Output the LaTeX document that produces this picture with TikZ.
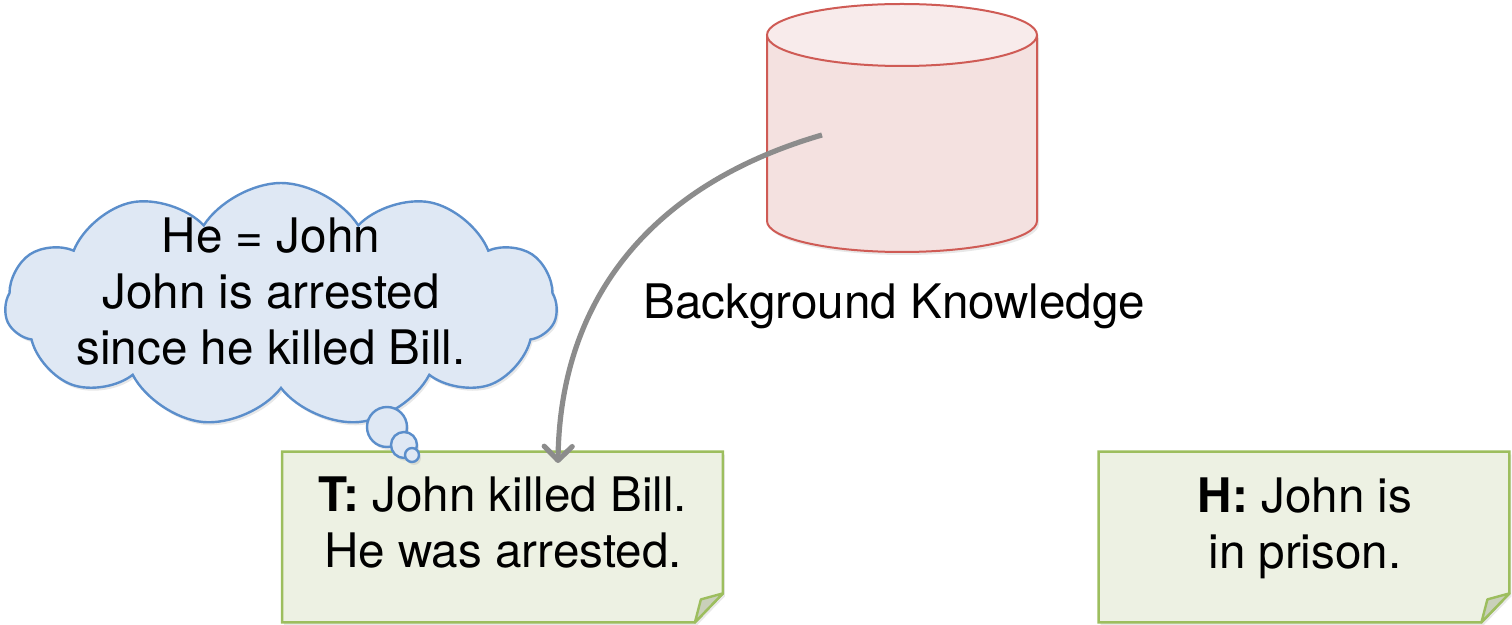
\documentclass[tikz,border=0pt]{standalone}
\usepackage{fontspec}
\setmainfont{TeX Gyre Heros}
\usetikzlibrary{shapes.symbols,arrows.meta,shadows}

\definecolor{noteFill}{HTML}{EDF1E3}
\definecolor{noteEdge}{HTML}{9DBE5E}
\definecolor{noteFlap}{HTML}{C9D0BA}
\definecolor{cloudFill}{HTML}{DFE8F4}
\definecolor{cloudEdge}{HTML}{5B8ECB}
\definecolor{cylBody}{HTML}{F4E1E0}
\definecolor{cylTop}{HTML}{F8EBEB}
\definecolor{cylEdge}{HTML}{CF5B55}
\definecolor{arrowGray}{HTML}{8C8C8C}

\tikzset{
  txt/.style={font=\fontsize{23.8}{28}\selectfont, align=center, inner sep=0pt},
  notebox/.style={minimum width=220pt, minimum height=85pt, inner sep=0pt},
  noteline/.style={draw=noteEdge, fill=noteFill, line width=1.2pt,
    drop shadow={shadow xshift=1pt, shadow yshift=-1.5pt, opacity=0.18}},
  flap/.style={draw=noteEdge, fill=noteFlap, line width=1.2pt, line join=round},
  thought/.style={draw=cloudEdge, fill=cloudFill, line width=1.2pt,
    drop shadow={shadow xshift=1pt, shadow yshift=-1.5pt, opacity=0.18}},
  cyl/.style={draw=cylEdge, line width=1pt},
  link/.style={draw=arrowGray, line width=2.6pt,
    -{Straight Barb[round, length=7pt, width=14pt]}},
}

\begin{document}
\begin{tikzpicture}[x=0.5pt, y=0.5pt]
  \useasboundingbox (0,0) rectangle (1512,-625);

  % knowledge base cylinder
  \fill[cylBody, drop shadow={shadow xshift=1pt, shadow yshift=-1.5pt, opacity=0.18}]
    (767,-35) -- (767,-221)
    arc[start angle=180, end angle=360, x radius=67.5pt, y radius=15.5pt]
    -- (1037,-35) -- cycle;
  \draw[cyl] (767,-35) -- (767,-221)
    arc[start angle=180, end angle=360, x radius=67.5pt, y radius=15.5pt]
    -- (1037,-35);
  \filldraw[cyl, fill=cylTop] (902,-35) ellipse[x radius=67.5pt, y radius=15.5pt];
  \coordinate (kb) at (822,-135);
  \node[txt, anchor=base] (kblabel) at (894.5,-319) {Background Knowledge};

  % thought cloud
  \node[thought, cloud, cloud puffs=11, cloud puff arc=115,
        minimum width=276pt, minimum height=122pt, inner sep=0pt] (cloud) at (281,-305) {};
  \node[txt] (ctext) at (271,-292) {He = John\\John is arrested\\since he killed Bill.};

  % text note T
  \node[notebox] (tbox) at (502.5,-537) {};
  \path[noteline] (tbox.north west) -- (tbox.north east) -- ([yshift=14.5pt]tbox.south east)
    -- ([xshift=-14pt]tbox.south east) -- (tbox.south west) -- cycle;
  \path[flap] ([yshift=14.5pt]tbox.south east) -- ([xshift=-14pt]tbox.south east)
    -- ([xshift=-11pt, yshift=11.5pt]tbox.south east) -- cycle;
  \node[txt] (ttext) at (503,-523) {\textbf{T:} John killed Bill.\\He was arrested.};

  % hypothesis note H
  \node[notebox, minimum width=205pt] (hbox) at (1304,-537) {};
  \path[noteline] (hbox.north west) -- (hbox.north east) -- ([yshift=14.5pt]hbox.south east)
    -- ([xshift=-14pt]hbox.south east) -- (hbox.south west) -- cycle;
  \path[flap] ([yshift=14.5pt]hbox.south east) -- ([xshift=-14pt]hbox.south east)
    -- ([xshift=-11pt, yshift=11.5pt]hbox.south east) -- cycle;
  \node[txt] (htext) at (1305,-528) {\textbf{H:} John is\\in prison.};

  % trailing bubbles of the thought, lying over the note
  \node[thought, circle, minimum size=20pt, inner sep=0pt] (b1) at (387,-427) {};
  \node[thought, circle, minimum size=13pt, inner sep=0pt] (b2) at (404,-445) {};
  \node[thought, circle, minimum size=7pt, inner sep=0pt] (b3) at (412,-455) {};

  % knowledge flowing into the text
  \coordinate (tip) at (558,-463);
  \draw[link] (kb) .. controls (650,-185) and (560,-300) .. (tip);
\end{tikzpicture}
\end{document}
